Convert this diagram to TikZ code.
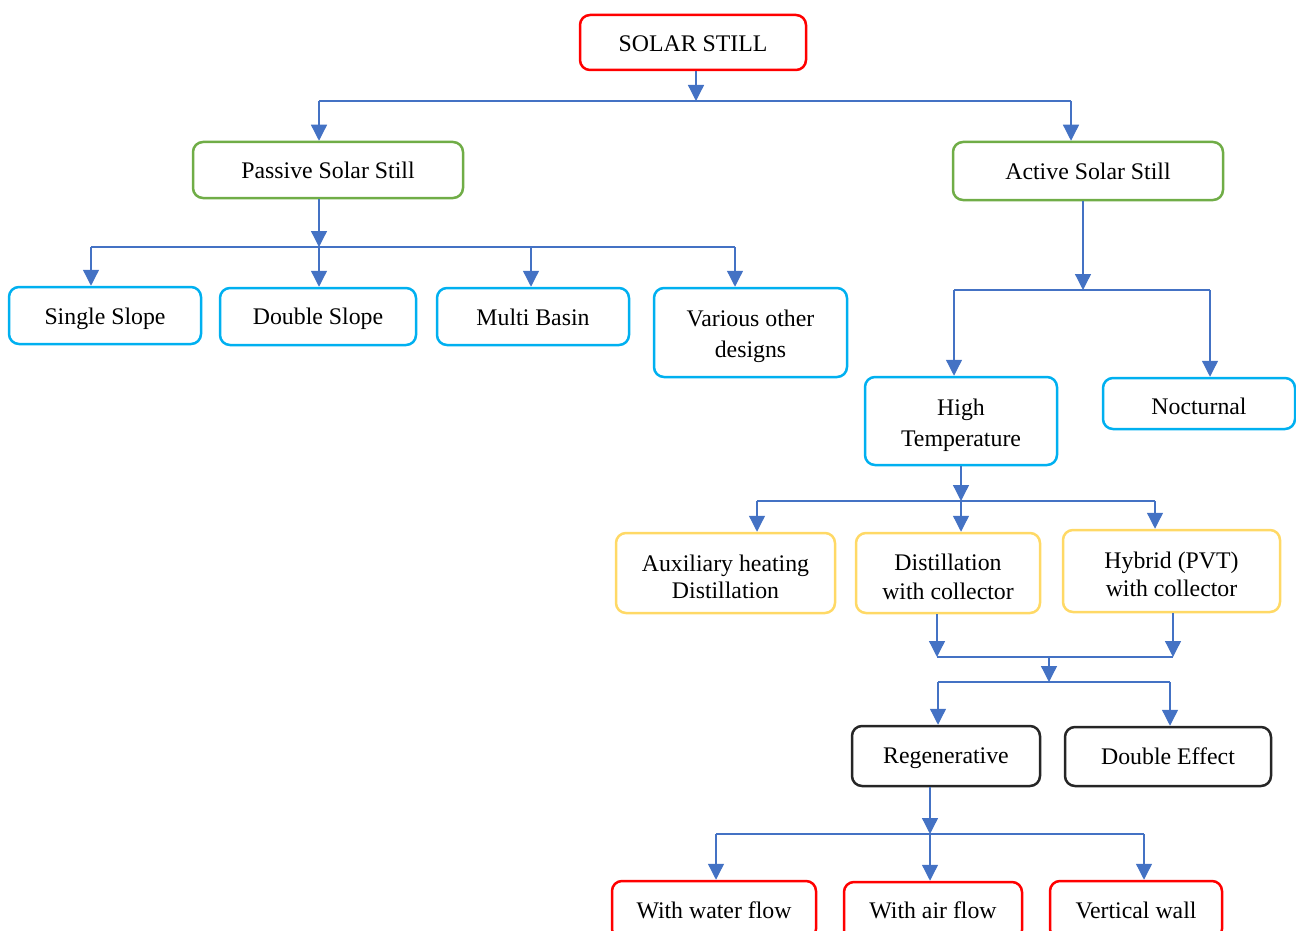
\documentclass[tikz,border=0pt]{standalone}
\usepackage{fontspec}
\setmainfont{Liberation Serif}
\usetikzlibrary{arrows.meta,calc}
\definecolor{cred}{HTML}{FF0000}
\definecolor{cgreen}{HTML}{70AD47}
\definecolor{ccyan}{HTML}{00B0F0}
\definecolor{cyel}{HTML}{FFD966}
\definecolor{cblk}{HTML}{262626}
\definecolor{cblue}{HTML}{4472C4}
\newcommand{\dnshift}[2]{\raisebox{-#1}[\height][\depth]{#2}}
\newcommand{\topstrut}{\rule{0pt}{12.3pt}}
\begin{document}
\begin{tikzpicture}[x=0.5pt,y=-0.5pt,
  box/.style={draw,rounded corners=5pt,line width=1.25pt,inner sep=0pt,align=center,
    font=\fontsize{11.9}{15.5}\selectfont,text=black},
  conn/.style={cblue,line width=0.65pt,-{Triangle[width=8pt,length=8pt]}},
  bus/.style={draw=cblue,line width=0.65pt}]
\useasboundingbox (0,0) rectangle (1296,931);

% nodes
\node[box,draw=cred,minimum width=113pt,minimum height=27.5pt] (solar) at (693,42.5) {\dnshift{0.5pt}{SOLAR STILL}};
\node[box,draw=cgreen,minimum width=135pt,minimum height=28pt] (passive) at (328,170) {Passive Solar Still};
\node[box,draw=cgreen,minimum width=135pt,minimum height=29pt] (active) at (1088,171) {Active Solar Still};
\node[box,draw=ccyan,minimum width=96pt,minimum height=28.5pt] (single) at (105,315.5) {\dnshift{1.5pt}{Single Slope}};
\node[box,draw=ccyan,minimum width=98pt,minimum height=28.5pt] (double) at (318,316.5) {\dnshift{1pt}{Double Slope}};
\node[box,draw=ccyan,minimum width=96pt,minimum height=28.5pt] (multi) at (533,316.5) {\dnshift{0.5pt}{Multi Basin}};
\node[box,draw=ccyan,minimum width=96.5pt,minimum height=44.5pt] (various) at (750.5,332.5) {\topstrut Various other\\designs};
\node[box,draw=ccyan,minimum width=96pt,minimum height=44pt] (high) at (961,421) {\topstrut High\\Temperature};
\node[box,draw=ccyan,minimum width=96pt,minimum height=25.5pt] (noct) at (1199,403.5) {\dnshift{1.5pt}{Nocturnal}};
\node[box,draw=cyel,minimum width=109.5pt,minimum height=40pt,font=\fontsize{11.9}{13.7}\selectfont] (aux) at (725.5,573) {\topstrut Auxiliary heating\\Distillation};
\node[box,draw=cyel,minimum width=92pt,minimum height=40pt,font=\fontsize{11.9}{14.5}\selectfont] (dist) at (948,573) {\topstrut Distillation\\with collector};
\node[box,draw=cyel,minimum width=108.5pt,minimum height=41pt,font=\fontsize{11.9}{14}\selectfont] (hyb) at (1171.5,571) {\rule{0pt}{11.5pt}Hybrid (PVT)\\with collector};
\node[box,draw=cblk,minimum width=94pt,minimum height=30pt] (regen) at (946,756) {\dnshift{1pt}{Regenerative}};
\node[box,draw=cblk,minimum width=103pt,minimum height=29.5pt] (deff) at (1168,756.5) {Double Effect};
\node[box,draw=cred,minimum width=102pt,minimum height=29pt] (water) at (714,910) {With water flow};
\node[box,draw=cred,minimum width=89pt,minimum height=29pt] (air) at (933,911) {\dnshift{-0.5pt}{With air flow}};
\node[box,draw=cred,minimum width=86pt,minimum height=29pt] (vert) at (1136,910) {Vertical wall};

% level 0
\coordinate (t0) at (696,101);
\coordinate (t0L) at (319,101);
\coordinate (t0R) at (1071,101);
\draw[conn] (solar.south -| t0) -- (t0);
\draw[bus] (t0L) -- (t0R);
\draw[conn] (t0L) -- (passive.north -| t0L);
\draw[conn] (t0R) -- (active.north -| t0R);

% passive
\coordinate (t1) at (319,247);
\coordinate (t1a) at (91,247);
\coordinate (t1b) at (319,247);
\coordinate (t1c) at (531,247);
\coordinate (t1d) at (735,247);
\draw[conn] (passive.south -| t1) -- (t1);
\draw[bus] (t1a) -- (t1d);
\draw[conn] (t1a) -- (single.north -| t1a);
\draw[conn] (t1b) -- (double.north -| t1b);
\draw[conn] (t1c) -- (multi.north -| t1c);
\draw[conn] (t1d) -- (various.north -| t1d);

% active
\coordinate (t2) at (1083,290);
\coordinate (t2L) at (954,290);
\coordinate (t2R) at (1210,290);
\draw[conn] (active.south -| t2) -- (t2);
\draw[bus] (t2L) -- (t2R);
\draw[conn] (t2L) -- (high.north -| t2L);
\draw[conn] (t2R) -- (noct.north -| t2R);

% high temperature
\coordinate (t3) at (961,501);
\coordinate (t3a) at (757,501);
\coordinate (t3b) at (961,501);
\coordinate (t3c) at (1155,501);
\draw[conn] (high.south -| t3) -- (t3);
\draw[bus] (t3a) -- (t3c);
\draw[conn] (t3a) -- (aux.north -| t3a);
\draw[conn] (t3b) -- (dist.north -| t3b);
\draw[conn] (t3c) -- (hyb.north -| t3c);

% collectors merge
\coordinate (t4L) at (937,657);
\coordinate (t4R) at (1173,657);
\coordinate (t4M) at (1049,657);
\coordinate (t5) at (1049,682);
\coordinate (t5L) at (938,682);
\coordinate (t5R) at (1170,682);
\draw[conn] (dist.south -| t4L) -- (t4L);
\draw[conn] (hyb.south -| t4R) -- (t4R);
\draw[bus] (t4L) -- (t4R);
\draw[conn] (t4M) -- (t5);
\draw[bus] (t5L) -- (t5R);
\draw[conn] (t5L) -- (regen.north -| t5L);
\draw[conn] (t5R) -- (deff.north -| t5R);

% regenerative
\coordinate (t6) at (930,834);
\coordinate (t6a) at (716,834);
\coordinate (t6b) at (930,834);
\coordinate (t6c) at (1144,834);
\draw[conn] (regen.south -| t6) -- (t6);
\draw[bus] (t6a) -- (t6c);
\draw[conn] (t6a) -- (water.north -| t6a);
\draw[conn] (t6b) -- (air.north -| t6b);
\draw[conn] (t6c) -- (vert.north -| t6c);
\end{tikzpicture}
\end{document}
